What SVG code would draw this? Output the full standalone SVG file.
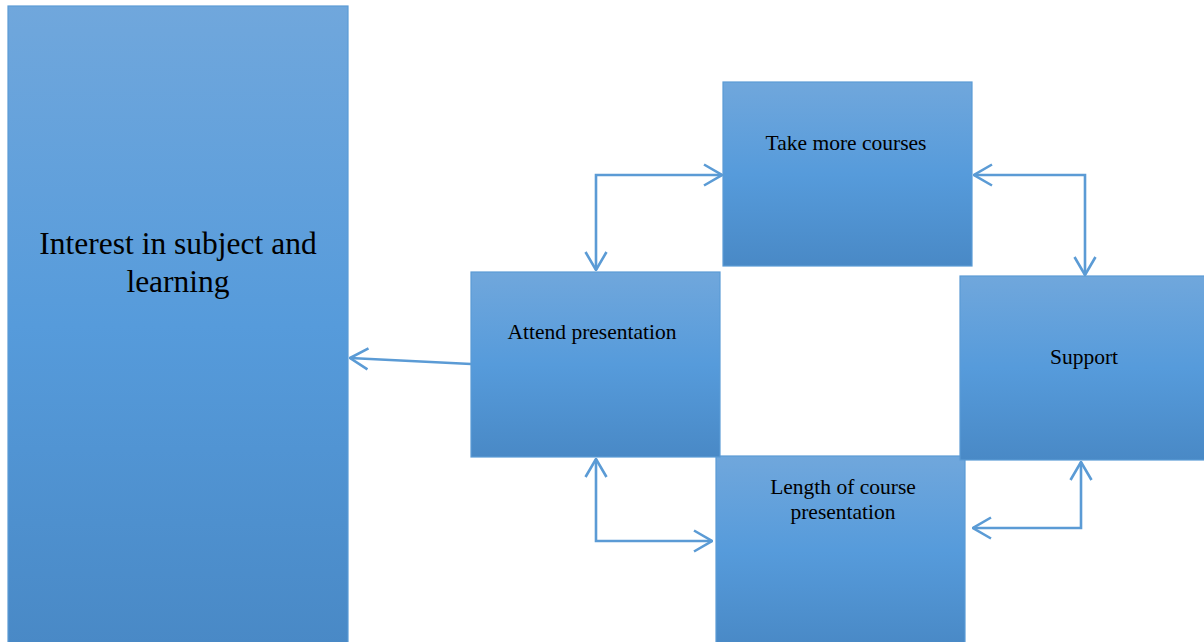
<svg xmlns="http://www.w3.org/2000/svg" width="1204" height="642" viewBox="0 0 1204 642">
  <defs>
    <linearGradient id="boxFill" x1="0" y1="0" x2="0" y2="1">
      <stop offset="0" stop-color="#70a7dc"/>
      <stop offset="0.5" stop-color="#569bdb"/>
      <stop offset="1" stop-color="#4989c6"/>
    </linearGradient>
    <marker id="openArrow" viewBox="0 0 20 24" refX="19" refY="12" markerWidth="20" markerHeight="24" markerUnits="userSpaceOnUse" orient="auto-start-reverse">
      <path d="M1,1.5 L19,12 L1,22.5" fill="none" stroke="#5b9bd5" stroke-width="2.6"/>
    </marker>
    <style>
      .box { fill: url(#boxFill); stroke: #5b9bd5; stroke-width: 1.2; }
      .label { font-family: "Liberation Serif", "Times New Roman", serif; fill: #000; text-anchor: middle; }
      .small { font-size: 21.5px; }
      .big { font-size: 31.5px; }
      .link { fill: none; stroke: #5b9bd5; stroke-width: 2.6; }
    </style>
  </defs>

  <g id="interest">
    <rect class="box" x="8" y="6" width="340" height="640"/>
    <text class="label big" x="178" y="254">Interest in subject and</text>
    <text class="label big" x="178" y="292">learning</text>
  </g>

  <g id="length">
    <rect class="box" x="716" y="456" width="249" height="190"/>
    <text class="label small" x="843" y="494">Length of course</text>
    <text class="label small" x="843" y="519">presentation</text>
  </g>

  <g id="attend">
    <rect class="box" x="471" y="272" width="249" height="185"/>
    <text class="label small" x="592" y="339">Attend presentation</text>
  </g>

  <g id="support">
    <rect class="box" x="960" y="276" width="250" height="184"/>
    <text class="label small" x="1084" y="364">Support</text>
  </g>

  <g id="take-more">
    <rect class="box" x="723" y="82" width="249" height="184"/>
    <text class="label small" x="846" y="150">Take more courses</text>
  </g>

  <g id="connectors">
    <path class="link" d="M722,175 L596,175 L596,270" marker-start="url(#openArrow)" marker-end="url(#openArrow)"/>
    <path class="link" d="M974,175 L1085,175 L1085,275" marker-start="url(#openArrow)" marker-end="url(#openArrow)"/>
    <path class="link" d="M471,364 L350,358" marker-end="url(#openArrow)"/>
    <path class="link" d="M596,459 L596,541 L712,541" marker-start="url(#openArrow)" marker-end="url(#openArrow)"/>
    <path class="link" d="M973,528 L1081,528 L1081,462" marker-start="url(#openArrow)" marker-end="url(#openArrow)"/>
  </g>
</svg>
